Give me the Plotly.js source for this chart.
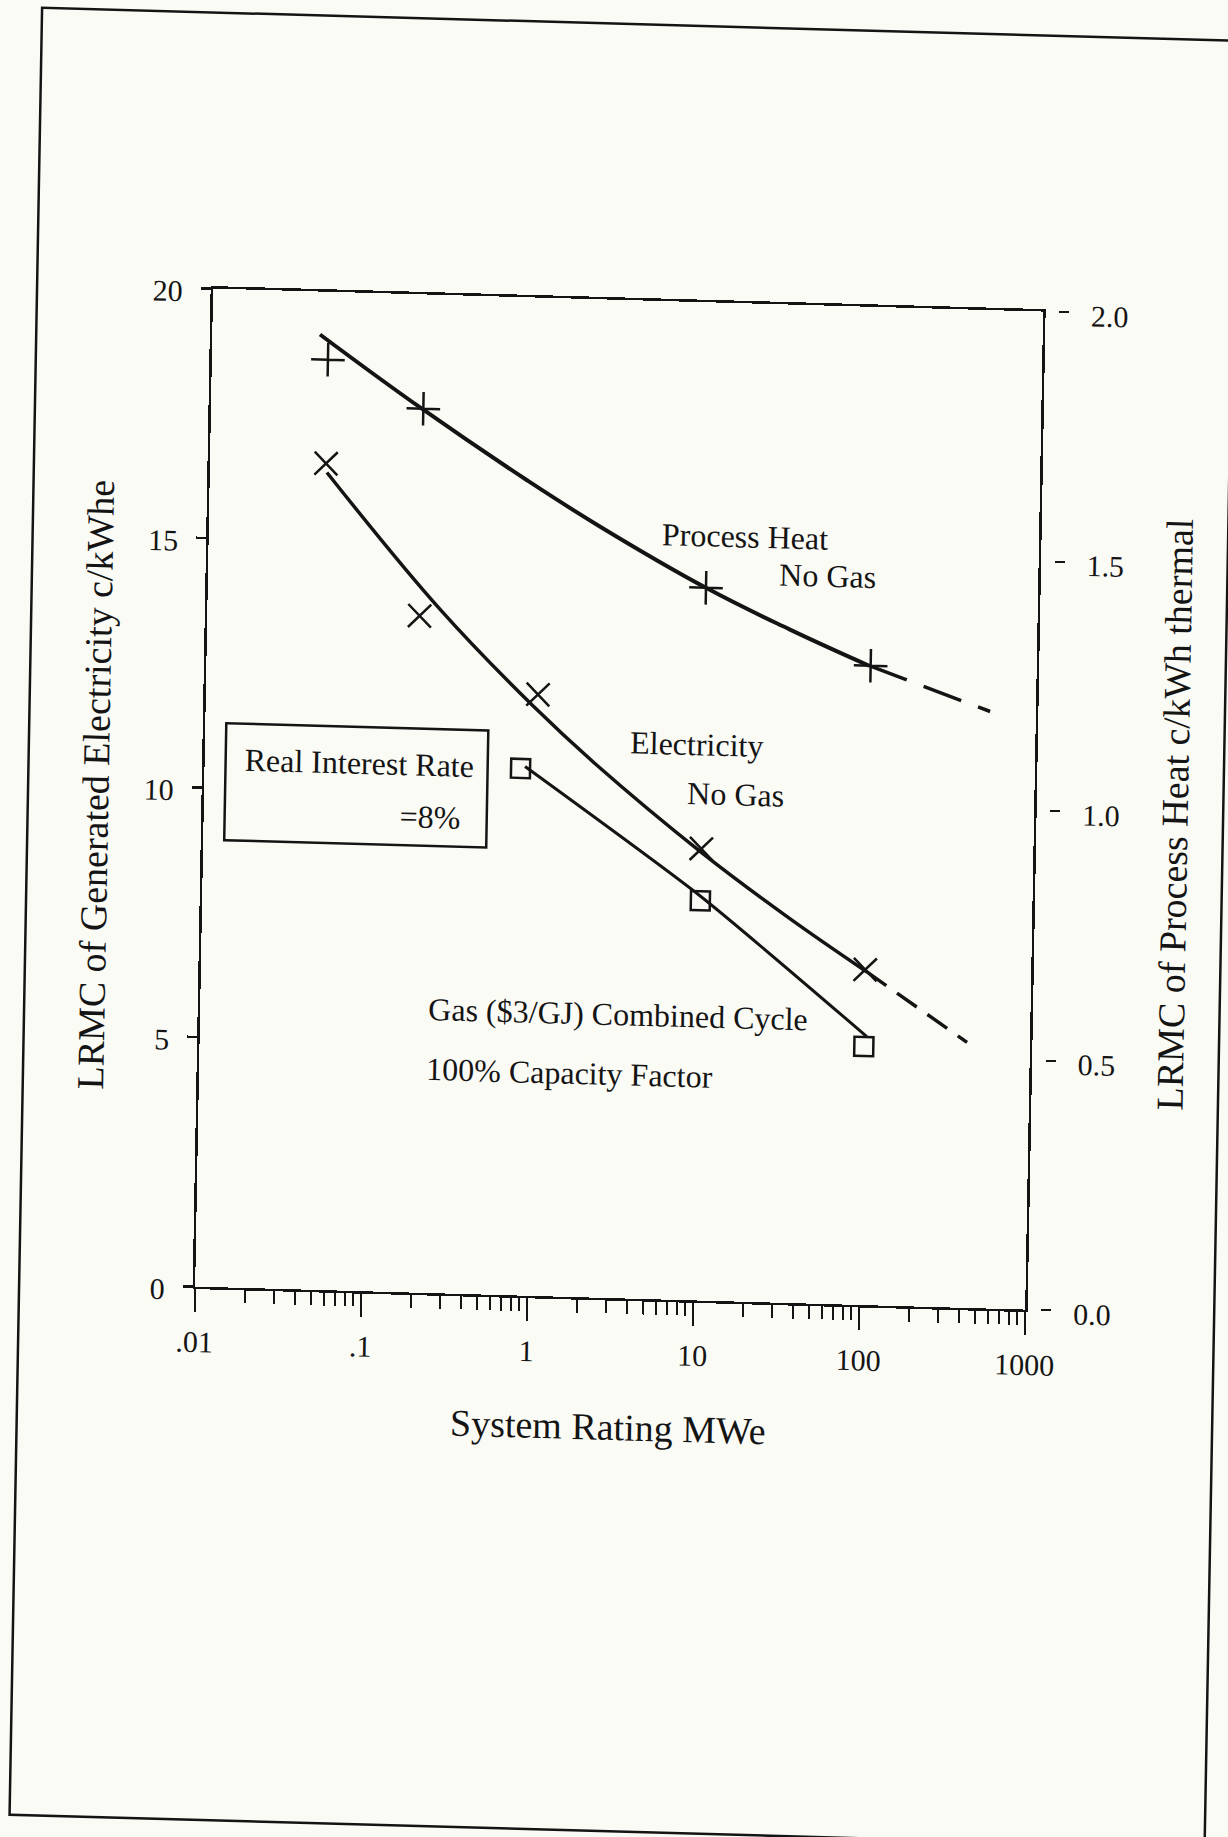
<!DOCTYPE html>
<html>
<head>
<meta charset="utf-8">
<script src="https://cdn.plot.ly/plotly-3.0.1.min.js"></script>
<style>
html, body { margin: 0; padding: 0; background: #fbfbf6; overflow: hidden; }
#chart { width: 1228px; height: 1837px; transform-origin: 614px 918px; transform: matrix(1, 0.0277, -0.018, 1, 0, 0); }
</style>
</head>
<body>
<div id="chart"></div>
<script>
// ---- data ----
// System rating (MWe) of the plotted symbols
const elecRating = [0.05, 0.19, 1, 10, 100];
const elecLRMC   = [16.56, 13.56, 12.05, 9.05, 6.72];          // c/kWhe (left axis)
const heatRating = [0.05, 0.19, 10, 100];
const heatLRMC   = [1.864, 1.771, 1.428, 1.281];                // c/kWh thermal (right axis)
const gasRating  = [0.8, 10, 100];
const gasLRMC    = [10.56, 8.01, 5.18];                         // c/kWhe (left axis)

// hand-fitted curves as drawn
const heatFitX  = [0.0445, 0.19, 0.81, 2.26, 10, 32.4, 98];
const heatFitY  = [1.914, 1.769, 1.634, 1.545, 1.428, 1.349, 1.281];
const heatExtX  = [98, 530];
const heatExtY  = [1.281, 1.196];
const elecFitX  = [0.0507, 0.252, 0.935, 2.24, 10.1, 33.4, 102];
const elecFitY  = [16.38, 13.70, 11.82, 10.70, 8.97, 7.74, 6.68];
const elecExtX  = [102, 418];
const elecExtY  = [6.68, 5.32];
const gasFitX   = [0.851, 10.1, 104];
const gasFitY   = [10.60, 8.09, 5.38];

// axis ticks
const xTickVals  = [0.01, 0.1, 1, 10, 100, 1000];
const xTickText  = ['.01', '.1', '1', '10', '100', '1000'];
const xMinorVals = [];
for (let e = -2; e <= 2; e++) for (let k = 2; k <= 9; k++) xMinorVals.push(k * Math.pow(10, e));

// ---- layout geometry (pixels) ----
const W = 1228, H = 1837;
const ML = 202, MR = 150, MT = 300, MB = 539;
const PW = W - ML - MR, PH = H - MT - MB;
const px = u => (u - ML) / PW;
const py = v => 1 - (v - MT) / PH;

const INK = '#141414';
const FONT = 'Liberation Serif, Times New Roman, serif';

const traces = [
  { x: heatFitX, y: heatFitY, yaxis: 'y2', mode: 'lines',
    line: { color: INK, width: 4, shape: 'spline', smoothing: 1.2 } },
  { x: heatExtX, y: heatExtY, yaxis: 'y2', mode: 'lines',
    line: { color: INK, width: 3.5, dash: '40px,18px' } },
  { x: heatRating, y: heatLRMC, yaxis: 'y2', mode: 'markers',
    marker: { symbol: 'cross-thin-open', size: 24, color: INK, line: { color: INK, width: 2.5 } } },

  { x: elecFitX, y: elecFitY, mode: 'lines',
    line: { color: INK, width: 3.5, shape: 'spline', smoothing: 1.1 } },
  { x: elecExtX, y: elecExtY, mode: 'lines',
    line: { color: INK, width: 3.5, dash: '24px,13px' } },
  { x: elecRating, y: elecLRMC, mode: 'markers',
    marker: { symbol: 'x-thin-open', size: 23, color: INK, line: { color: INK, width: 2.5 } } },

  { x: gasFitX, y: gasFitY, mode: 'lines',
    line: { color: INK, width: 3, shape: 'spline', smoothing: 0.6 } },
  { x: gasRating, y: gasLRMC, mode: 'markers',
    marker: { symbol: 'square-open', size: 19, color: INK, line: { color: INK, width: 2.5 } } }
];

const tickFont = { family: FONT, size: 30, color: INK };
const titleFont = { family: FONT, size: 38, color: INK };
const noteFont = { family: FONT, size: 32, color: INK };

function note(text, u, v, xanchor) {
  return { text: text, x: px(u), y: py(v), xref: 'paper', yref: 'paper',
           xanchor: xanchor || 'center', yanchor: 'middle', showarrow: false, font: noteFont };
}

const layout = {
  width: W, height: H,
  margin: { l: ML, r: MR, t: MT, b: MB, pad: 0 },
  paper_bgcolor: '#fbfbf6', plot_bgcolor: '#fbfbf6',
  showlegend: false,
  font: { family: FONT, color: INK },
  xaxis: {
    type: 'log', range: [-2, 3], domain: [0, 830 / PW],
    tickmode: 'array', tickvals: xTickVals, ticktext: xTickText,
    ticks: 'outside', ticklen: 23, tickwidth: 2, tickcolor: INK,
    minor: { tickmode: 'array', tickvals: xMinorVals, ticks: 'outside', ticklen: 13, tickwidth: 2, tickcolor: INK, showgrid: false },
    showline: true, linewidth: 2.5, linecolor: INK, mirror: true,
    showgrid: false, zeroline: false,
    tickfont: tickFont, ticklabelstandoff: 4,
    title: { text: 'System Rating MWe', font: titleFont, standoff: 45 }
  },
  yaxis: {
    range: [0, 20], tickmode: 'linear', tick0: 0, dtick: 5,
    ticks: 'outside', ticklen: 10, tickwidth: 2.5, tickcolor: INK,
    showline: true, linewidth: 2.5, linecolor: INK, mirror: true,
    showgrid: false, zeroline: false,
    tickfont: tickFont, ticklabelstandoff: 12, ticklabelshift: 3,
    title: { text: 'LRMC of Generated Electricity c/kWhe', font: titleFont, standoff: 23 }
  },
  yaxis2: {
    overlaying: 'y', side: 'right', anchor: 'free', position: (1047 - ML) / PW,
    range: [0, 2], tickmode: 'linear', tick0: 0, dtick: 0.5, tickformat: '.1f',
    ticks: 'outside', ticklen: 10, tickwidth: 2, tickcolor: INK,
    showline: false, showgrid: false, zeroline: false,
    tickfont: tickFont, ticklabelstandoff: 16, ticklabelshift: 3,
    title: { text: 'LRMC of Process Heat c/kWh thermal', font: titleFont, standoff: 42 }
  },
  annotations: [
    note('Process Heat', 738, 533),
    note('No Gas', 821, 570),
    note('Electricity', 693, 742),
    note('No Gas', 733, 791),
    note('Real Interest Rate', 356, 770),
    note('=8%', 428, 822),
    note('Gas ($3/GJ) Combined Cycle', 428, 1014, 'left'),
    note('100% Capacity Factor', 427, 1074, 'left')
  ],
  shapes: [
    { type: 'rect', xref: 'paper', yref: 'paper', x0: px(223), x1: px(485), y0: py(851), y1: py(734),
      line: { color: INK, width: 2.5 } },
    { type: 'rect', xref: 'paper', yref: 'paper', x0: px(26), x1: px(1221), y0: py(1831), y1: py(24),
      line: { color: INK, width: 2.5 } }
  ]
};

Plotly.newPlot('chart', traces, layout, { staticPlot: true, displayModeBar: false });
</script>
</body>
</html>
